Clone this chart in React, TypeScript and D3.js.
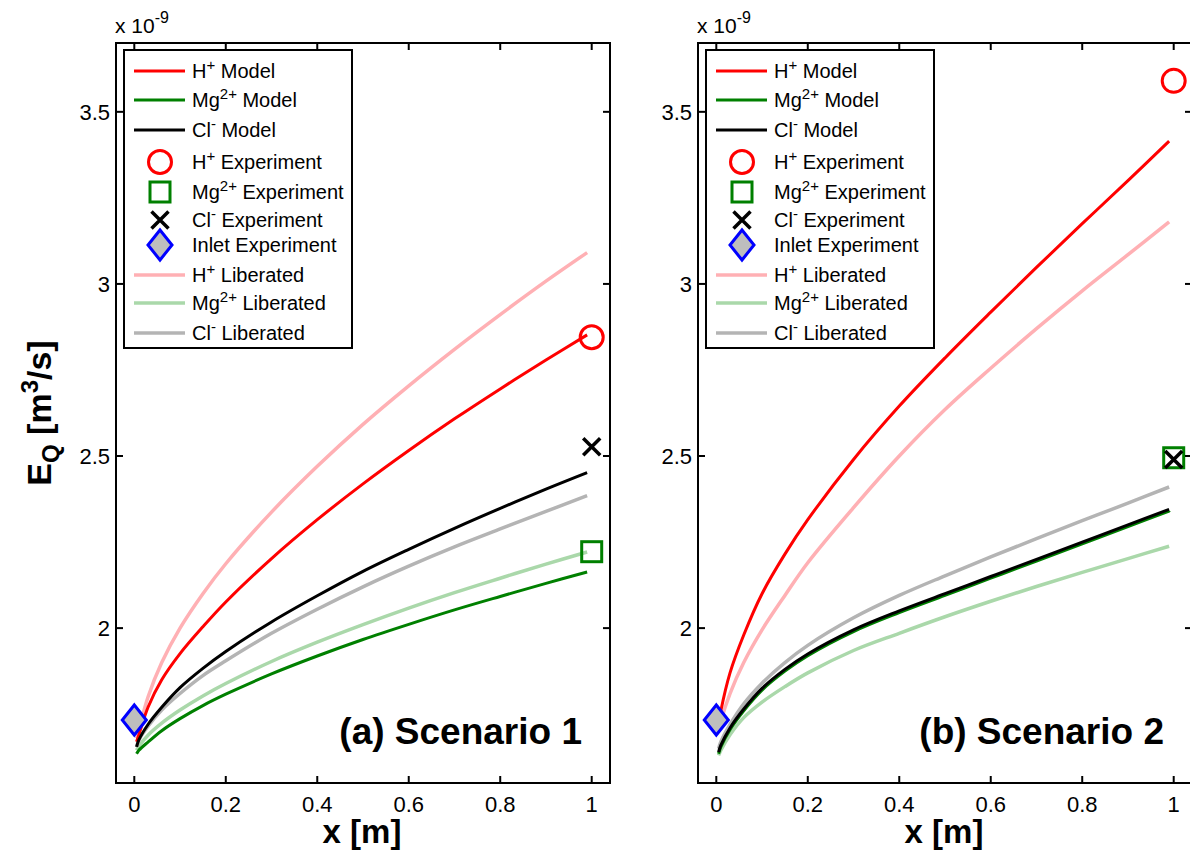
import React from "react";
import * as d3 from "d3";

// ---- data ----
const xGrid = [0.005, 0.01, 0.03, 0.06, 0.1, 0.15, 0.2, 0.3, 0.4, 0.5, 0.6, 0.7, 0.8, 0.9, 0.99];

// Scenario 1
const s1HModel = [1.67, 1.69, 1.77, 1.85, 1.926, 2.004, 2.076, 2.202, 2.315, 2.419, 2.516, 2.608, 2.695, 2.779, 2.852];
const s1MgModel = [1.635, 1.645, 1.669, 1.702, 1.737, 1.775, 1.808, 1.867, 1.919, 1.967, 2.011, 2.053, 2.092, 2.13, 2.163];
const s1ClModel = [1.655, 1.675, 1.72, 1.77, 1.827, 1.883, 1.932, 2.018, 2.094, 2.165, 2.229, 2.29, 2.348, 2.404, 2.452];
const s1HLib = [1.68, 1.705, 1.8, 1.9, 2.0, 2.1, 2.187, 2.337, 2.47, 2.592, 2.704, 2.81, 2.911, 3.008, 3.091];
const s1MgLib = [1.645, 1.657, 1.689, 1.724, 1.762, 1.803, 1.839, 1.903, 1.959, 2.01, 2.058, 2.103, 2.145, 2.186, 2.221];
const s1ClLib = [1.655, 1.675, 1.715, 1.762, 1.81, 1.862, 1.905, 1.985, 2.055, 2.12, 2.18, 2.236, 2.288, 2.339, 2.385];
const s1Exp = { H: 2.845, Mg: 2.222, Cl: 2.527, inlet: 1.733 };

// Scenario 2
const s2HModel = [1.72, 1.76, 1.87, 1.98, 2.1, 2.215, 2.315, 2.49, 2.645, 2.785, 2.918, 3.048, 3.175, 3.3, 3.415];
const s2MgModel = [1.635, 1.655, 1.705, 1.76, 1.82, 1.875, 1.92, 1.99, 2.045, 2.095, 2.145, 2.195, 2.245, 2.295, 2.34];
const s2ClModel = [1.64, 1.66, 1.71, 1.765, 1.825, 1.88, 1.925, 1.995, 2.05, 2.1, 2.15, 2.2, 2.25, 2.3, 2.345];
const s2HLib = [1.7, 1.73, 1.81, 1.9, 1.995, 2.095, 2.19, 2.35, 2.5, 2.635, 2.755, 2.87, 2.98, 3.085, 3.18];
const s2MgLib = [1.63, 1.645, 1.69, 1.74, 1.785, 1.83, 1.87, 1.935, 1.985, 2.033, 2.078, 2.121, 2.162, 2.202, 2.238];
const s2ClLib = [1.65, 1.67, 1.72, 1.78, 1.84, 1.9, 1.95, 2.03, 2.095, 2.152, 2.207, 2.26, 2.312, 2.363, 2.41];
const s2Exp = { H: 3.59, Mg: 2.495, Cl: 2.49, inlet: 1.733 };

const expX = 1;
const inletX = 0;

const xTicks = [0, 0.2, 0.4, 0.6, 0.8, 1];
const yTicks = [2, 2.5, 3, 3.5];
const xDomain = [-0.04, 1.04];
const yDomain = [1.55, 3.7];

const ions = ["H", "Mg", "Cl"];
const charges = ["+", "2+", "-"];
const panelTitles = ["(a) Scenario 1", "(b) Scenario 2"];

// ---- styles ----
const FONT = "'Liberation Sans', Arial, Helvetica, sans-serif";
const modelColors = ["#ff0000", "#008000", "#000000"];
const libColors = ["#ffb0b4", "#aad8aa", "#b4b4b4"];

const panels = [
  { left: 116, models: [s1HModel, s1MgModel, s1ClModel], libs: [s1HLib, s1MgLib, s1ClLib], exp: s1Exp },
  { left: 698, models: [s2HModel, s2MgModel, s2ClModel], libs: [s2HLib, s2MgLib, s2ClLib], exp: s2Exp },
];

const TOP = 43;
const BOTTOM = 783;
const WIDTH = 494;

function CircleM({ cx, cy }: { cx: number; cy: number }) {
  return <circle cx={cx} cy={cy} r={11.5} fill="none" stroke="#ff0000" strokeWidth={3} />;
}
function SquareM({ cx, cy }: { cx: number; cy: number }) {
  return <rect x={cx - 10} y={cy - 10} width={20} height={20} fill="none" stroke="#008000" strokeWidth={3} />;
}
function CrossM({ cx, cy }: { cx: number; cy: number }) {
  const s = 8.5;
  return (
    <path
      d={`M${cx - s},${cy - s}L${cx + s},${cy + s}M${cx - s},${cy + s}L${cx + s},${cy - s}`}
      stroke="#000"
      strokeWidth={3.5}
      fill="none"
    />
  );
}
function DiamondM({ cx, cy }: { cx: number; cy: number }) {
  const w = 12, h = 15;
  return (
    <path
      d={`M${cx},${cy - h}L${cx + w},${cy}L${cx},${cy + h}L${cx - w},${cy}Z`}
      fill="#bebebe"
      stroke="#0000ff"
      strokeWidth={3}
      strokeLinejoin="miter"
    />
  );
}

function IonLabel({ x, y, i, rest }: { x: number; y: number; i: number; rest: string }) {
  return (
    <text x={x} y={y} fontSize={20} fontFamily={FONT} fill="#000">
      {ions[i]}
      <tspan fontSize={15} dy={-8}>{charges[i]}</tspan>
      <tspan dy={8}>{rest}</tspan>
    </text>
  );
}

function Panel({ p, idx }: { p: (typeof panels)[number]; idx: number }) {
  const x = d3.scaleLinear().domain(xDomain).range([p.left, p.left + WIDTH]);
  const y = d3.scaleLinear().domain(yDomain).range([BOTTOM, TOP]);
  const line = d3
    .line<number>()
    .x((_, i) => x(xGrid[i]))
    .y((d) => y(d))
    .curve(d3.curveCatmullRom.alpha(0.5));
  const right = p.left + WIDTH;
  const tickLen = 7;
  const lx = p.left + 8;
  const rows = [71, 100, 130, 162, 192, 220, 245, 275, 303, 333];

  return (
    <g>
      {/* liberated */}
      {p.libs.map((s, i) => (
        <path key={"l" + i} d={line(s) || ""} fill="none" stroke={libColors[i]} strokeWidth={3.5} />
      ))}
      {/* models: green first, then red, black */}
      {[1, 0, 2].map((i) => (
        <path key={"m" + i} d={line(p.models[i]) || ""} fill="none" stroke={modelColors[i]} strokeWidth={3} />
      ))}
      {/* experiment markers */}
      <CircleM cx={x(expX)} cy={y(p.exp.H)} />
      <SquareM cx={x(expX)} cy={y(p.exp.Mg)} />
      <CrossM cx={x(expX)} cy={y(p.exp.Cl)} />
      <DiamondM cx={x(inletX)} cy={y(p.exp.inlet)} />

      {/* axes box */}
      <rect x={p.left} y={TOP} width={WIDTH} height={BOTTOM - TOP} fill="none" stroke="#000" strokeWidth={2} />
      {xTicks.map((t) => (
        <g key={"xt" + t}>
          <line x1={x(t)} x2={x(t)} y1={BOTTOM} y2={BOTTOM - tickLen} stroke="#000" strokeWidth={2} />
          <line x1={x(t)} x2={x(t)} y1={TOP} y2={TOP + tickLen} stroke="#000" strokeWidth={2} />
          <text x={x(t)} y={812} textAnchor="middle" fontSize={22} fontFamily={FONT}>
            {d3.format("~g")(t)}
          </text>
        </g>
      ))}
      {yTicks.map((t) => (
        <g key={"yt" + t}>
          <line x1={p.left} x2={p.left + tickLen} y1={y(t)} y2={y(t)} stroke="#000" strokeWidth={2} />
          <line x1={right} x2={right - tickLen} y1={y(t)} y2={y(t)} stroke="#000" strokeWidth={2} />
          <text x={p.left - 6} y={y(t) + 8} textAnchor="end" fontSize={22} fontFamily={FONT}>
            {d3.format("~g")(t)}
          </text>
        </g>
      ))}
      {/* exponent */}
      <text x={p.left - 1} y={33} fontSize={21} fontFamily={FONT}>
        x 10<tspan fontSize={16} dy={-10}>-9</tspan>
      </text>
      {/* x label */}
      <text x={p.left + WIDTH / 2 - 1} y={843} textAnchor="middle" fontSize={33} fontWeight="bold" fontFamily={FONT}>
        x [m]
      </text>
      {/* panel title */}
      <text x={p.left + 466} y={744} textAnchor="end" fontSize={37} fontWeight="bold" fontFamily={FONT}>
        {panelTitles[idx]}
      </text>

      {/* legend */}
      <rect x={lx} y={50} width={228} height={298} fill="#fff" stroke="#000" strokeWidth={2} />
      {[0, 1, 2].map((i) => (
        <g key={"lm" + i}>
          <line x1={lx + 10} x2={lx + 61} y1={rows[i]} y2={rows[i]} stroke={modelColors[i]} strokeWidth={3} />
          <IonLabel x={lx + 68} y={rows[i] + 7} i={i} rest=" Model" />
        </g>
      ))}
      <CircleM cx={lx + 36} cy={rows[3]} />
      <IonLabel x={lx + 68} y={rows[3] + 7} i={0} rest=" Experiment" />
      <SquareM cx={lx + 36} cy={rows[4]} />
      <IonLabel x={lx + 68} y={rows[4] + 7} i={1} rest=" Experiment" />
      <CrossM cx={lx + 36} cy={rows[5]} />
      <IonLabel x={lx + 68} y={rows[5] + 7} i={2} rest=" Experiment" />
      <DiamondM cx={lx + 36} cy={rows[6]} />
      <text x={lx + 68} y={rows[6] + 7} fontSize={20} fontFamily={FONT}>
        Inlet Experiment
      </text>
      {[0, 1, 2].map((i) => (
        <g key={"ll" + i}>
          <line x1={lx + 10} x2={lx + 61} y1={rows[7 + i]} y2={rows[7 + i]} stroke={libColors[i]} strokeWidth={3.5} />
          <IonLabel x={lx + 68} y={rows[7 + i] + 7} i={i} rest=" Liberated" />
        </g>
      ))}
    </g>
  );
}

export default function App() {
  return (
    <svg
      width={1190}
      height={852}
      style={{ position: "absolute", left: 0, top: 0, background: "#fff" }}
    >
      <rect x={0} y={0} width={1190} height={852} fill="#fff" />
      {panels.map((p, i) => (
        <Panel key={i} p={p} idx={i} />
      ))}
      <text transform="translate(51,413) rotate(-90)" textAnchor="middle" fontSize={34} fontWeight="bold" fontFamily={FONT}>
        E<tspan fontSize={24} dy={8}>Q</tspan>
        <tspan dy={-8}> [m</tspan>
        <tspan fontSize={24} dy={-13}>3</tspan>
        <tspan dy={13}>/s]</tspan>
      </text>
    </svg>
  );
}
